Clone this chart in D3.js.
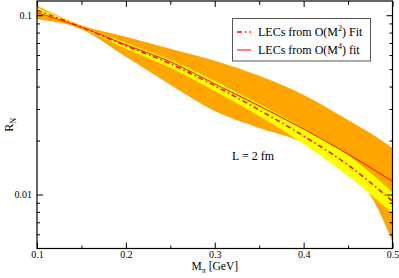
<!DOCTYPE html>
<html>
<head>
<meta charset="utf-8">
<script src="https://cdn.jsdelivr.net/npm/d3@7"></script>
<style>
  body { margin: 0; background: #fff; }
  svg { display: block; }
  text { font-family: "Liberation Serif", "Times New Roman", serif; }
</style>
</head>
<body>
<div id="chart"></div>
<script>
// pion mass grid [GeV]
const mpi = [0.1, 0.15, 0.2, 0.25, 0.3, 0.35, 0.4, 0.45, 0.5];

// central values
const fitM4 = [0.1033, 0.0857, 0.0684, 0.0550, 0.0414, 0.0312, 0.0232, 0.0168, 0.01186];
const fitM2 = [0.1066, 0.0857, 0.0675, 0.0536, 0.0404, 0.0296, 0.0212, 0.0146, 0.00918];

// error band of O(M^2) fit (yellow)
const yellowHi = [0.1108, 0.0868, 0.0702, 0.0564, 0.0430, 0.0320, 0.0235, 0.0166, 0.0103];
const yellowLo = [0.1026, 0.0846, 0.0650, 0.0509, 0.0378, 0.0274, 0.0191, 0.01265, 0.00786];

// error band of O(M^4) fit (orange)
const mpiOrange = [0.1, 0.15, 0.2, 0.25, 0.3, 0.35, 0.4, 0.45, 0.475, 0.5];
const orangeHi = [0.1130, 0.0879, 0.0758, 0.0650, 0.0557, 0.0459, 0.0359, 0.0260, 0.0220, 0.0182];
const orangeLo = [0.0950, 0.0835, 0.0586, 0.0409, 0.0292, 0.0235, 0.0194, 0.0133, 0.00991, 0.00548];

const xTicks = [0.1, 0.2, 0.3, 0.4, 0.5];
const xMinor = [0.15, 0.25, 0.35, 0.45];
const yTicks = [0.01, 0.1];
const yMinor = [0.006, 0.007, 0.008, 0.009, 0.02, 0.03, 0.04, 0.05, 0.06, 0.07, 0.08, 0.09];

const width = 399, height = 278;
const margin = { top: 1, right: 6.5, bottom: 29.5, left: 37 };
const serif = "Liberation Serif, Times New Roman, serif";

const x = d3.scaleLinear().domain([0.1, 0.5]).range([margin.left, width - margin.right]);
const y = d3.scaleLog().domain([0.005, 0.12]).range([height - margin.bottom, margin.top]);

const svg = d3.select("#chart").append("svg")
  .attr("width", width)
  .attr("height", height)
  .attr("font-family", serif);

svg.append("clipPath").attr("id", "clip")
  .append("rect")
  .attr("x", margin.left).attr("y", margin.top)
  .attr("width", width - margin.left - margin.right)
  .attr("height", height - margin.top - margin.bottom);

const plot = svg.append("g").attr("clip-path", "url(#clip)");

const band = d3.area()
  .x(d => x(d[0]))
  .y0(d => y(d[1]))
  .y1(d => y(d[2]))
  .curve(d3.curveMonotoneX);

const line = d3.line()
  .x(d => x(d[0]))
  .y(d => y(d[1]))
  .curve(d3.curveMonotoneX);

plot.append("path")
  .attr("d", band(mpiOrange.map((m, i) => [m, orangeLo[i], orangeHi[i]])))
  .attr("fill", "#ffa500");

plot.append("path")
  .attr("d", band(mpi.map((m, i) => [m, yellowLo[i], yellowHi[i]])))
  .attr("fill", "#ffff00");

plot.append("path")
  .attr("d", line(mpi.map((m, i) => [m, fitM4[i]])))
  .attr("fill", "none")
  .attr("stroke", "#ff0000")
  .attr("stroke-width", 1);

plot.append("path")
  .attr("d", line(mpi.map((m, i) => [m, fitM2[i]])))
  .attr("fill", "none")
  .attr("stroke", "#ff0000")
  .attr("stroke-width", 1.5)
  .attr("stroke-dasharray", "5,3,1.5,3");

// axes: ticks point inward on all four sides
const bottom = height - margin.bottom, right = width - margin.right;

svg.append("g").attr("transform", `translate(0,${bottom})`)
  .call(d3.axisBottom(x).tickValues(xTicks).tickSize(-6).tickPadding(2).tickFormat(d3.format(".1f")))
  .call(g => g.select(".domain").remove());
svg.append("g").attr("transform", `translate(0,${bottom})`)
  .call(d3.axisBottom(x).tickValues(xMinor).tickSize(-3).tickFormat(""))
  .call(g => g.select(".domain").remove());
svg.append("g").attr("transform", `translate(0,${margin.top})`)
  .call(d3.axisTop(x).tickValues(xTicks).tickSize(-6).tickFormat(""))
  .call(g => g.select(".domain").remove());
svg.append("g").attr("transform", `translate(0,${margin.top})`)
  .call(d3.axisTop(x).tickValues(xMinor).tickSize(-4).tickFormat(""))
  .call(g => g.select(".domain").remove());

svg.append("g").attr("transform", `translate(${margin.left},0)`)
  .call(d3.axisLeft(y).tickValues(yTicks).tickSize(-6).tickPadding(5).tickFormat(d3.format("")))
  .call(g => g.select(".domain").remove());
svg.append("g").attr("transform", `translate(${margin.left},0)`)
  .call(d3.axisLeft(y).tickValues(yMinor).tickSize(-3).tickFormat(""))
  .call(g => g.select(".domain").remove());
svg.append("g").attr("transform", `translate(${right},0)`)
  .call(d3.axisRight(y).tickValues(yTicks).tickSize(-6).tickFormat(""))
  .call(g => g.select(".domain").remove());
svg.append("g").attr("transform", `translate(${right},0)`)
  .call(d3.axisRight(y).tickValues(yMinor).tickSize(-3).tickFormat(""))
  .call(g => g.select(".domain").remove());

svg.selectAll("g")
  .attr("font-family", serif)
  .attr("font-size", 10);
svg.selectAll(".tick text").attr("fill", "#000");

svg.append("rect")
  .attr("x", margin.left).attr("y", margin.top)
  .attr("width", right - margin.left)
  .attr("height", bottom - margin.top)
  .attr("fill", "none")
  .attr("stroke", "#000")
  .attr("stroke-width", 1.2);

// axis titles
const xt = svg.append("text")
  .attr("x", (margin.left + right) / 2)
  .attr("y", 270)
  .attr("text-anchor", "middle")
  .attr("font-size", 11.5);
xt.append("tspan").text("M");
xt.append("tspan").attr("dy", 3).attr("font-size", 8).text("π");
xt.append("tspan").attr("dy", -3).text(" [GeV]");

const yt = svg.append("text")
  .attr("transform", `translate(13,${(margin.top + bottom) / 2}) rotate(-90)`)
  .attr("text-anchor", "middle")
  .attr("font-size", 12);
yt.append("tspan").text("R");
yt.append("tspan").attr("dy", 3).attr("font-size", 8).text("N");

svg.append("text")
  .attr("x", 253).attr("y", 160)
  .attr("text-anchor", "middle")
  .attr("font-size", 12)
  .text("L = 2 fm");

// legend
const legend = svg.append("g");
legend.append("rect")
  .attr("x", 232.5).attr("y", 18.5)
  .attr("width", 138).attr("height", 42.5)
  .attr("fill", "#fff")
  .attr("stroke", "#555")
  .attr("stroke-width", 1);

const legendItems = [
  { order: "2", tail: ") Fit", dash: "5,3,1.5,3", w: 1.5 },
  { order: "4", tail: ") fit", dash: null, w: 1 }
];

legendItems.forEach((d, i) => {
  const cy = 32 + i * 18;
  legend.append("line")
    .attr("x1", 237).attr("x2", 251)
    .attr("y1", cy).attr("y2", cy)
    .attr("stroke", "#ff0000")
    .attr("stroke-width", d.w)
    .attr("stroke-dasharray", d.dash);
  const t = legend.append("text")
    .attr("x", 258).attr("y", cy + 4)
    .attr("font-size", 12);
  t.append("tspan").text("LECs from O(M");
  t.append("tspan").attr("dy", -5).attr("font-size", 8).text(d.order);
  t.append("tspan").attr("dy", 5).text(d.tail);
});
</script>
</body>
</html>
